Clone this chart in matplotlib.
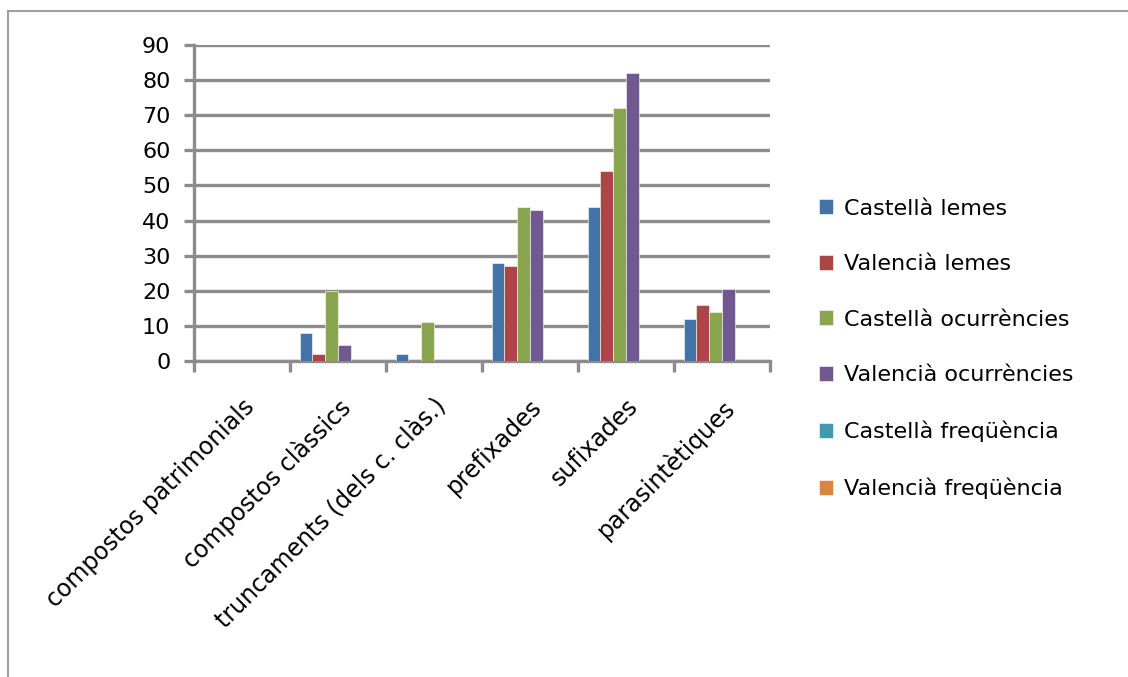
import numpy as np
import matplotlib.pyplot as plt
from matplotlib.patches import Rectangle

plt.rcParams['font.family'] = ['DejaVu Sans']

categories = ['compostos patrimonials', 'compostos clàssics', 'truncaments (dels c. clàs.)',
              'prefixades', 'sufixades', 'parasintètiques']
series_names = ['Castellà lemes', 'Valencià lemes', 'Castellà ocurrències',
                'Valencià ocurrències', 'Castellà freqüència', 'Valencià freqüència']
castella_lemes = [0, 8, 2, 28, 44, 12]
valencia_lemes = [0, 2, 0, 27, 54, 16]
castella_ocurr = [0, 20, 11, 44, 72, 14]
valencia_ocurr = [0, 4.5, 0, 43, 82, 20.5]
castella_freq = [0, 0, 0, 0, 0, 0]
valencia_freq = [0, 0, 0, 0, 0, 0]
colors = ['#4572A7', '#AA4643', '#89A54E', '#71588F', '#4198AF', '#DB843D']
gridColor = '#8c8c8c'

fig = plt.figure(figsize=(11.28, 6.77), dpi=100)
ax = fig.add_axes([0.172, 0.4668, 0.5106, 0.4667])

allSeries = [castella_lemes, valencia_lemes, castella_ocurr, valencia_ocurr, castella_freq, valencia_freq]
x = np.arange(len(categories))
w = 1.0 / 7.5
for i, (name, vals) in enumerate(zip(series_names, allSeries)):
    ax.bar(x + (i - 2.5) * w, vals, w, color=colors[i], label=name, zorder=3,
           edgecolor='white', linewidth=0.4)

ax.set_xlim(-0.5, len(categories) - 0.5)
ax.set_ylim(0, 90)
ax.set_yticks(range(0, 91, 10))
ax.yaxis.grid(True, color=gridColor, linewidth=2.4, zorder=0)
ax.set_axisbelow(True)
for side in ['top', 'right']:
    ax.spines[side].set_visible(False)
for side in ['left', 'bottom']:
    ax.spines[side].set_color(gridColor)
    ax.spines[side].set_linewidth(2.4)
ax.tick_params(axis='y', length=7, width=2.4, color=gridColor, labelsize=16, pad=10)

ax.set_xticks(x)
ax.set_xticks(np.arange(-0.5, len(categories), 1.0), minor=True)
ax.tick_params(axis='x', which='major', length=0, pad=24)
ax.tick_params(axis='x', which='minor', length=8, width=2.4, color=gridColor)
ax.set_xticklabels(categories, rotation=45, ha='right', va='top', rotation_mode='anchor', fontsize=17)

leg = fig.legend(loc='center left', bbox_to_anchor=(0.708, 0.4845), frameon=False, fontsize=16,
                 handlelength=0.65, handleheight=0.65, handletextpad=0.5, labelspacing=1.6)

fig.patches.append(Rectangle((0.007, -0.1), 1.2, 1.084, transform=fig.transFigure,
                             fill=False, edgecolor='#a0a0a0', linewidth=1.5))

fig.savefig('out.png', dpi=100)
